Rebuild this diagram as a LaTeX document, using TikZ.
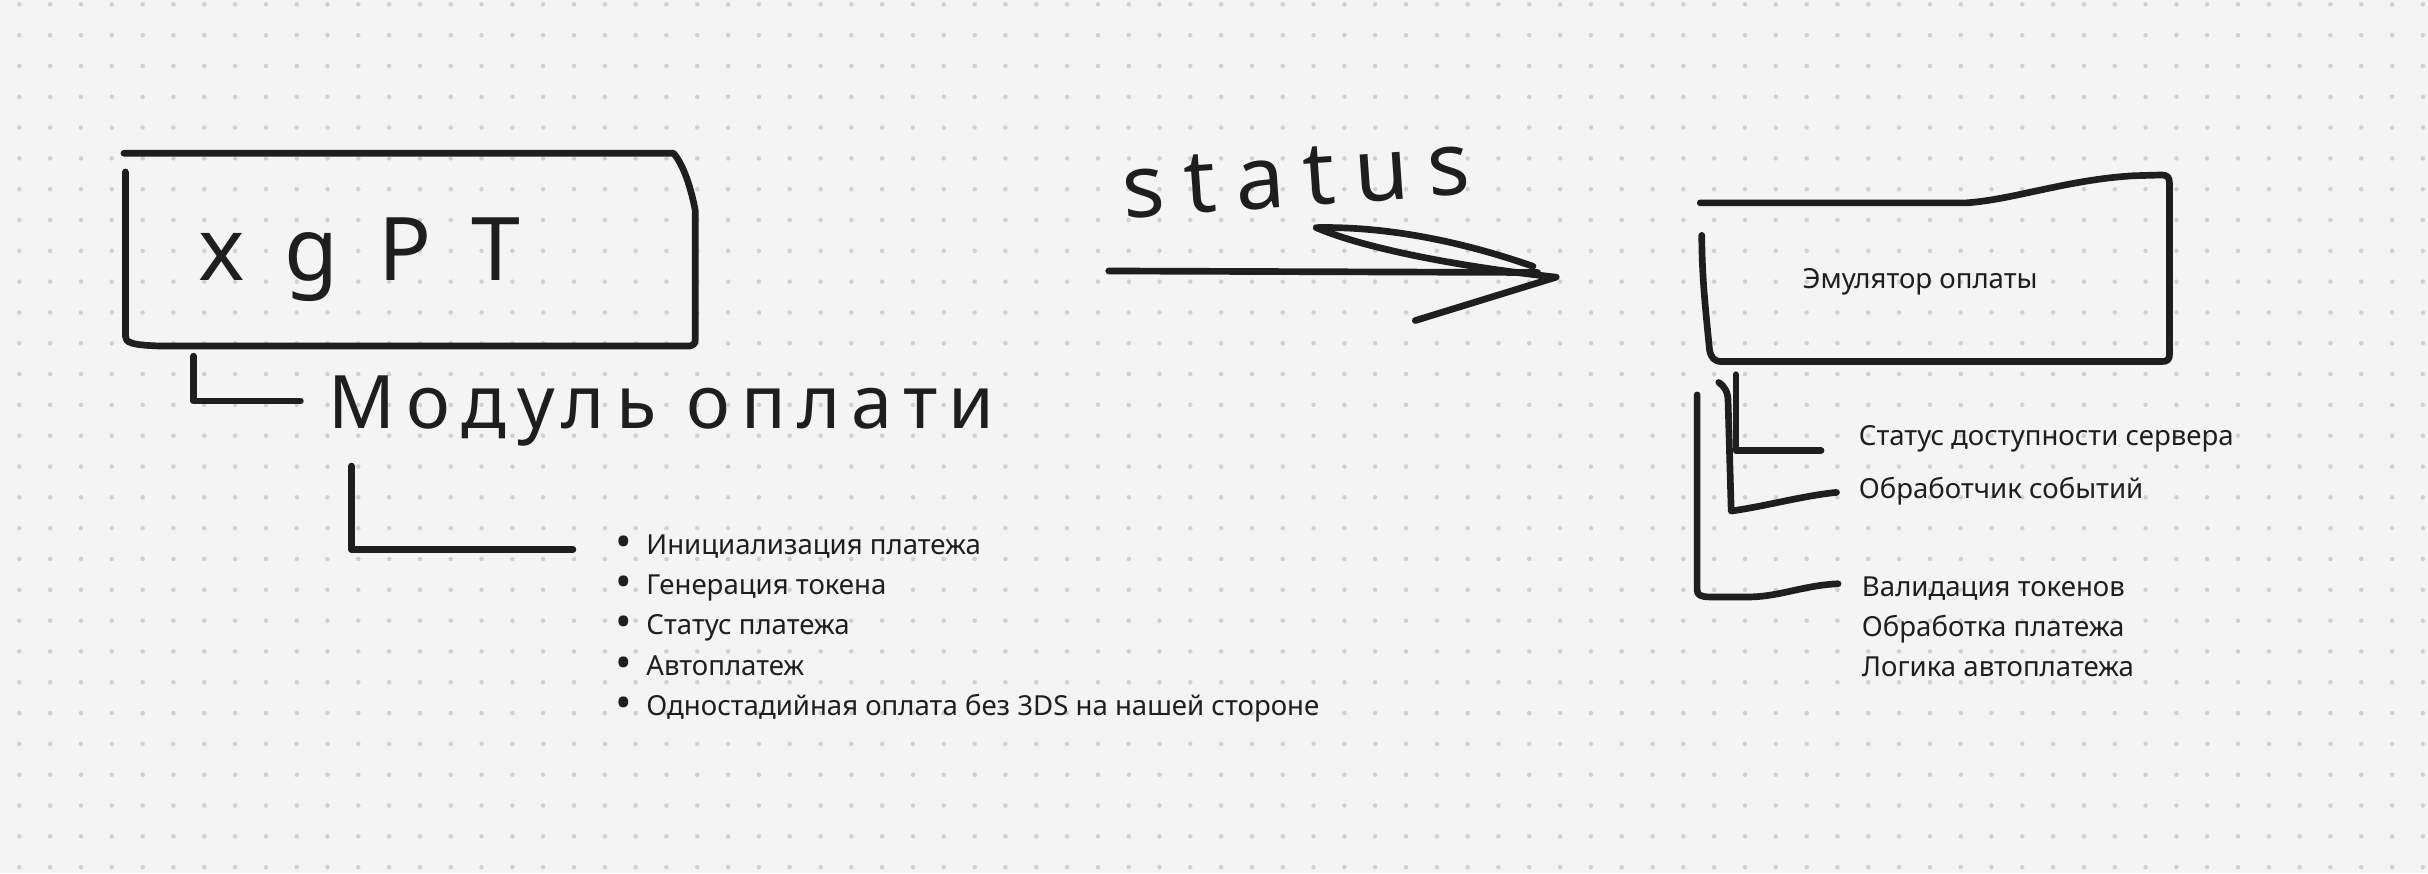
\documentclass[tikz,border=0pt]{standalone}
\usepackage{fontspec}
\setmainfont{Noto Sans}
\usetikzlibrary{calc}
\definecolor{ink}{RGB}{30,30,30}
\definecolor{paper}{RGB}{244,244,244}
\definecolor{dotgrey}{RGB}{208,208,208}
\newcommand{\dotitem}{\makebox[0.31cm][l]{\raisebox{-0.2ex}{\scalebox{1.6}{\textbullet}}}}

\begin{document}
\begin{tikzpicture}[x=0.015485cm,y=-0.015485cm,
  pen/.style={draw=ink,line width=1.9pt,line cap=round,line join=round},
  hand/.style={text=ink,inner sep=0pt,anchor=base west},
  label/.style={text=ink,inner sep=0pt,anchor=base west,font=\fontsize{7.85}{9}\selectfont},
  item/.style={label}
]
\useasboundingbox[fill=paper] (0,0) rectangle (1568,564);
\foreach \i in {0,...,78}
  \foreach \j in {0,...,28}
    \fill[dotgrey] (12.5+19.9*\i,2.8+19.9*\j) circle (0.65pt);

\node[hand,font=\fontsize{25}{26}\selectfont\addfontfeature{LetterSpace=45}] (xgpt) at (128,181) {xgPT};
\draw[pen] (81,111) -- (81,217) .. controls (81,221) and (84,223) .. (105,223.5)
  -- (445,223.5) .. controls (448,223) and (449,222) .. (449,219) -- (449,136)
  .. controls (446,120) and (441,106) .. (435,99) -- (80,99);
\coordinate (xgpt-tail) at (125,230);

\node[hand,font=\fontsize{21}{24}\selectfont\addfontfeature{LetterSpace=15}] (modul) at (212,277) {Модуль оплати};
\draw[pen] (xgpt-tail) |- ($(modul.base west)+(-18,-18)$);
\coordinate (modul-tail) at (227,301);

\node[item] (f1) at (397,358) {\dotitem Инициализация платежа};
\node[item] (f2) at (397,384) {\dotitem Генерация токена};
\node[item] (f3) at (397,410) {\dotitem Статус платежа};
\node[item] (f4) at (397,436) {\dotitem Автоплатеж};
\node[item] (f5) at (397,462) {\dotitem Одностадийная оплата без 3DS на нашей стороне};
\draw[pen] (modul-tail) |- ($(f1.base west)+(-27,-3)$);

\node[hand,rotate=4,font=\fontsize{25}{26}\selectfont\addfontfeature{LetterSpace=22}] (status) at (726,141) {status};
\coordinate (status-start) at (716,175);
\coordinate (status-tip) at (1005,179);
\draw[pen] (status-start) -- (993,176);
\draw[pen] (990,172) .. controls (950,158) and (900,146) .. (850,147)
  .. controls (880,160) and (940,172) .. (status-tip) -- (914,207);

\node[label,anchor=center] (emu) at (1240,182) {Эмулятор оплаты};
\draw[pen] (1098,131) -- (1270,131) .. controls (1300,129) and (1335,116) .. (1378,113.5)
  -- (1396,113) .. controls (1400,113) and (1401,115) .. (1401,118) -- (1401,229)
  .. controls (1401,232) and (1400,233.5) .. (1396,233.5) -- (1112,233.5)
  .. controls (1107,233.5) and (1105,231) .. (1104,226) .. controls (1102,205) and (1099,180) .. (1099,152);
\coordinate (emu-tail1) at (1121,242);
\coordinate (emu-tail2) at (1110,247);
\coordinate (emu-tail3) at (1096,255);

\node[label] (srv) at (1200,288) {Статус доступности сервера};
\node[label] (evt) at (1200,322) {Обработчик событий};
\node[label] (val) at (1202,385) {Валидация токенов};
\node[label] (pay) at (1202,411) {Обработка платежа};
\node[label] (auto) at (1202,437) {Логика автоплатежа};

\draw[pen] (emu-tail1) |- ($(srv.base west)+(-24,3)$);
\draw[pen] (emu-tail2) .. controls (1114,250) and (1116,253) .. (1116,260) -- (1118,330)
  .. controls (1140,327) and (1165,320) .. ($(evt.base west)+(-14,-4)$);
\draw[pen] (emu-tail3) -- (1096,381) .. controls (1096,384) and (1098,385.5) .. (1104,385.5)
  -- (1131,385.5) .. controls (1150,385) and (1165,378) .. ($(val.base west)+(-15,-8)$);
\end{tikzpicture}
\end{document}
